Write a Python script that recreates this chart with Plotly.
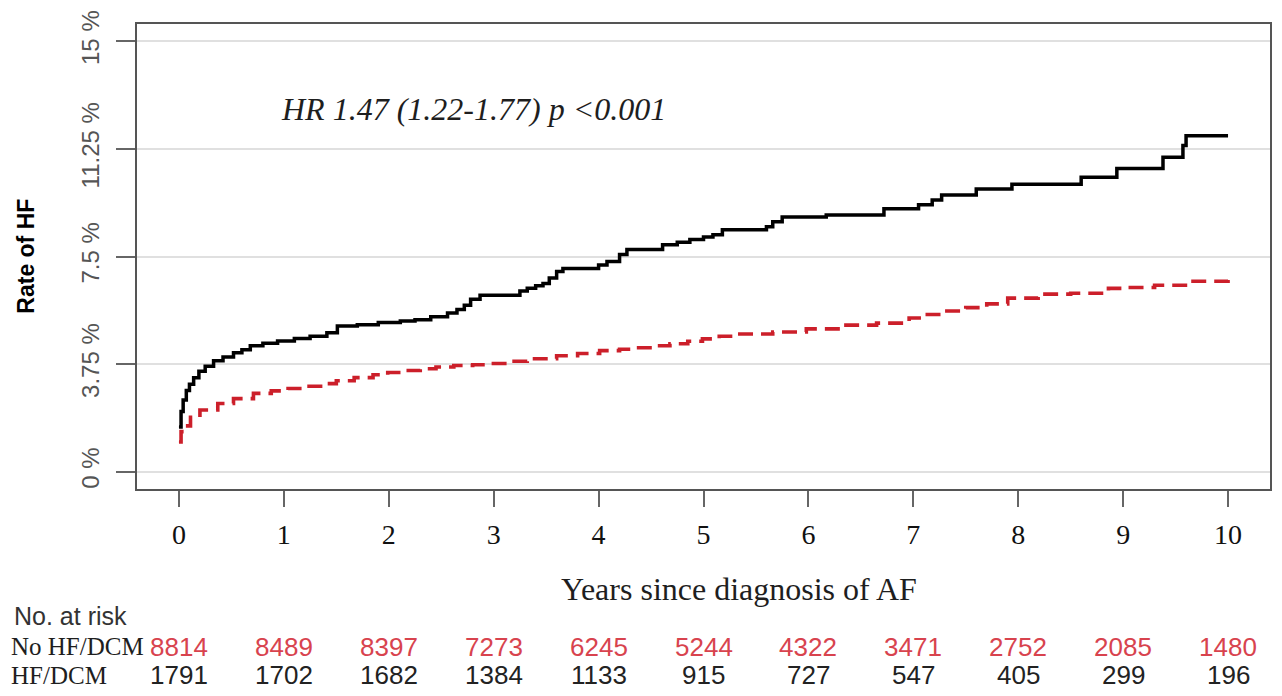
import plotly.graph_objects as go

# Cumulative incidence of heart failure (%), step points (years, %)
hf_dcm_years = [0, 0.02, 0.04, 0.07, 0.1, 0.14, 0.19, 0.25, 0.33, 0.42, 0.52, 0.6,
                0.68, 0.8, 0.94, 1.1, 1.25, 1.41, 1.51, 1.7, 1.9, 2.11, 2.25, 2.4,
                2.56, 2.65, 2.72, 2.78, 2.87, 3.18, 3.25, 3.32, 3.4, 3.47, 3.53, 3.6,
                3.66, 3.95, 4.0, 4.08, 4.2, 4.27, 4.61, 4.75, 4.87, 5.0, 5.09, 5.18,
                5.6, 5.66, 5.75, 6.17, 6.72, 7.05, 7.18, 7.27, 7.6, 7.94, 8.6, 8.94,
                9.38, 9.57, 9.6, 10.0]
hf_dcm_rate = [1.56, 2.1, 2.5, 2.83, 3.05, 3.28, 3.5, 3.68, 3.87, 4.0, 4.15, 4.25,
               4.39, 4.48, 4.56, 4.64, 4.72, 4.84, 5.08, 5.12, 5.2, 5.25, 5.3, 5.4,
               5.53, 5.65, 5.8, 6.01, 6.15, 6.15, 6.3, 6.39, 6.48, 6.56, 6.75, 6.98,
               7.08, 7.08, 7.2, 7.33, 7.57, 7.74, 7.91, 8.0, 8.09, 8.18, 8.26, 8.43,
               8.54, 8.71, 8.88, 8.95, 9.16, 9.3, 9.47, 9.64, 9.85, 10.02, 10.26,
               10.57, 10.96, 11.37, 11.71, 11.71]

no_hf_years = [0, 0.02, 0.05, 0.11, 0.2, 0.37, 0.52, 0.71, 0.88, 1.04, 1.2, 1.35,
               1.5, 1.67, 1.85, 1.99, 2.15, 2.3, 2.45, 2.62, 2.8, 2.97, 3.15, 3.32,
               3.6, 3.8, 4.01, 4.2, 4.36, 4.52, 4.68, 4.85, 4.99, 5.15, 5.31, 5.66,
               5.98, 6.32, 6.65, 6.96, 7.1, 7.27, 7.5, 7.7, 7.9, 8.19, 8.5, 8.86,
               9.0, 9.3, 9.62, 10.0]
no_hf_rate = [1.04, 1.4, 1.6, 1.9, 2.15, 2.38, 2.55, 2.73, 2.82, 2.9, 2.98, 3.07,
              3.17, 3.28, 3.38, 3.46, 3.53, 3.59, 3.65, 3.7, 3.73, 3.77, 3.85, 3.94,
              4.04, 4.12, 4.22, 4.27, 4.32, 4.39, 4.46, 4.55, 4.63, 4.72, 4.8, 4.87,
              4.98, 5.11, 5.18, 5.36, 5.48, 5.6, 5.72, 5.85, 6.05, 6.19, 6.22, 6.39,
              6.42, 6.5, 6.64, 6.7]

# Axis ticks
year_ticks = list(range(0, 11))
rate_ticks = [0, 3.75, 7.5, 11.25, 15]
rate_labels = ["0 %", "3.75 %", "7.5 %", "11.25 %", "15 %"]

# Number at risk table
risk_no_hf = [8814, 8489, 8397, 7273, 6245, 5244, 4322, 3471, 2752, 2085, 1480]
risk_hf = [1791, 1702, 1682, 1384, 1133, 915, 727, 547, 405, 299, 196]

hr_text = "HR 1.47 (1.22-1.77) p <0.001"

RED = "#cc1f2a"
RED_TXT = "#d8434e"
SERIF = "Liberation Serif, Times New Roman, serif"
SANS = "Liberation Sans, Arial, sans-serif"

fig = go.Figure()
fig.add_trace(go.Scatter(
    x=no_hf_years, y=no_hf_rate, mode="lines", line_shape="hv",
    line=dict(color=RED, width=3.6, dash="15px,8px"),
    name="No HF/DCM", showlegend=False, hoverinfo="skip"))
fig.add_trace(go.Scatter(
    x=hf_dcm_years, y=hf_dcm_rate, mode="lines", line_shape="hv",
    line=dict(color="#000000", width=3.5),
    name="HF/DCM", showlegend=False, hoverinfo="skip"))

annotations = [
    dict(x=0.95, y=12.65, xref="x", yref="y", text=hr_text, showarrow=False,
         xanchor="left", yanchor="middle",
         font=dict(family=SERIF, size=32, color="#1e1e1e", style="italic")),
    dict(x=5.34, y=-0.215, xref="x", yref="paper", text="Years since diagnosis of AF",
         showarrow=False, xanchor="center", yanchor="middle",
         font=dict(family=SERIF, size=32, color="#1e1e1e")),
    dict(x=-0.0987, y=0.5, xref="paper", yref="paper", text="<b>Rate of HF</b>",
         textangle=-90, showarrow=False, xanchor="center", yanchor="middle",
         font=dict(family=SANS, size=23, color="#000000")),
    dict(x=-0.110, y=-0.273, xref="paper", yref="paper", text="No. at risk",
         showarrow=False, xanchor="left", yanchor="middle",
         font=dict(family=SANS, size=25, color="#333333")),
    dict(x=-0.113, y=-0.339, xref="paper", yref="paper", text="No HF/DCM",
         showarrow=False, xanchor="left", yanchor="middle",
         font=dict(family=SERIF, size=25, color="#1e1e1e")),
    dict(x=-0.113, y=-0.401, xref="paper", yref="paper", text="HF/DCM",
         showarrow=False, xanchor="left", yanchor="middle",
         font=dict(family=SERIF, size=25, color="#1e1e1e")),
]
for yr, n_red, n_blk in zip(year_ticks, risk_no_hf, risk_hf):
    annotations.append(dict(x=yr, y=-0.339, xref="x", yref="paper", text=str(n_red),
                            showarrow=False, xanchor="center", yanchor="middle",
                            font=dict(family=SANS, size=26, color=RED_TXT)))
    annotations.append(dict(x=yr, y=-0.401, xref="x", yref="paper", text=str(n_blk),
                            showarrow=False, xanchor="center", yanchor="middle",
                            font=dict(family=SANS, size=26, color="#222222")))

fig.update_layout(
    width=1282, height=696,
    margin=dict(l=137, r=10, t=20, b=207),
    paper_bgcolor="white", plot_bgcolor="white",
    annotations=annotations,
    xaxis=dict(range=[-0.4, 10.4], tickvals=year_ticks, ticks="outside", ticklen=16,
               tickwidth=2, tickcolor="#666666", showline=True, mirror=True,
               linecolor="#555555", linewidth=2, showgrid=False, zeroline=False,
               tickfont=dict(family=SERIF, size=28, color="#111111"),
               ticklabelstandoff=3),
    yaxis=dict(range=[-0.6, 15.6], tickvals=rate_ticks, ticktext=rate_labels,
               tickangle=-90, ticks="outside", ticklen=19, tickwidth=2,
               tickcolor="#666666", showline=True, mirror=True, linecolor="#555555",
               linewidth=2, showgrid=True, gridcolor="#e0e0e0", gridwidth=1.5,
               zeroline=False, tickfont=dict(family=SANS, size=24, color="#555555"),
               ticklabelstandoff=7),
)

fig.write_html("out.html")
